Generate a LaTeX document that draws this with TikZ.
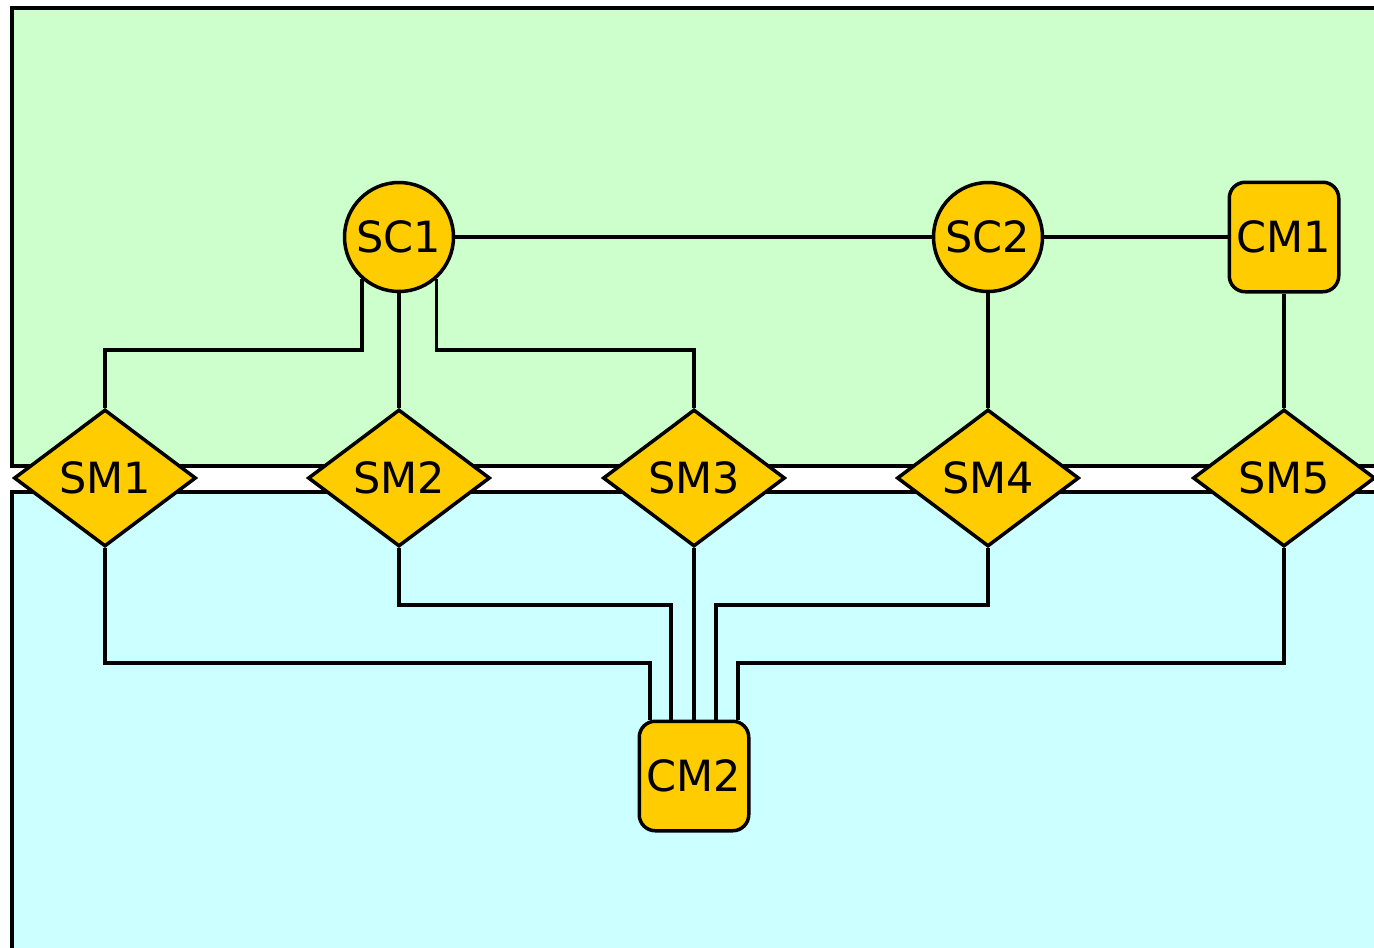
\documentclass[tikz,border=0pt]{standalone}
\usepackage{fontspec}
\setmainfont{DejaVu Sans}
\usetikzlibrary{shapes.geometric}
\definecolor{bggreen}{HTML}{CCFFCC}
\definecolor{bgcyan}{HTML}{CCFFFF}
\definecolor{yel}{HTML}{FFCC00}
\begin{document}
\begin{tikzpicture}[x=1pt,y=-1pt,line width=3.5pt,
  lbl/.style={font=\fontsize{43}{51}\selectfont},
  diamondnode/.style={diamond,draw,fill=yel,lbl,minimum width=182pt,minimum height=137pt,inner sep=0pt},
  circnode/.style={circle,draw,fill=yel,lbl,minimum size=109pt,inner sep=0pt},
  boxnode/.style={rectangle,rounded corners=16pt,draw,fill=yel,lbl,minimum width=109.5pt,minimum height=109.5pt,inner sep=0pt},
  wire/.style={draw=black,line width=3.5pt}]
\useasboundingbox (0,0) rectangle (1374,948);
\clip (0,0) rectangle (1374,948);
% zones
\draw[fill=bggreen] (12,8) rectangle (1420,466);
\draw[fill=bgcyan] (12,492) rectangle (1420,1000);
% bus levels
\coordinate (busU) at (0,350);
\coordinate (busM) at (0,605);
\coordinate (busL) at (0,663);
% nodes
\node[circnode] (SC1) at (399,237) {SC1};
\node[circnode] (SC2) at (988,237) {SC2};
\node[boxnode] (CM1) at (1284,237) {CM1};
\node[diamondnode] (SM1) at (105,478) {SM1};
\node[diamondnode] (SM2) at (399,478) {SM2};
\node[diamondnode] (SM3) at (694,478) {SM3};
\node[diamondnode] (SM4) at (988,478) {SM4};
\node[diamondnode] (SM5) at (1284,478) {SM5};
\node[boxnode] (CM2) at (694,776) {CM2};
% upper connectors
\draw[wire] (SC1) -- (SC2);
\draw[wire] (SC2) -- (CM1);
\draw[wire] (SC1.-131.4) -- (SC1.-131.4 |- busU) -| (SM1.north);
\draw[wire] (SC1.south) -- (SM2.north);
\draw[wire] (SC1.-48.6) -- (SC1.-48.6 |- busU) -| (SM3.north);
\draw[wire] (SC2.south) -- (SM4.north);
\draw[wire] (CM1.south) -- (SM5.north);
% lower connectors
\draw[wire] (SM1.south) -- (SM1.south |- busL) -| ([xshift=-44pt]CM2.north);
\draw[wire] (SM2.south) -- (SM2.south |- busM) -| ([xshift=-23pt]CM2.north);
\draw[wire] (SM3.south) -- (CM2.north);
\draw[wire] (SM4.south) -- (SM4.south |- busM) -| ([xshift=22pt]CM2.north);
\draw[wire] (SM5.south) -- (SM5.south |- busL) -| ([xshift=44pt]CM2.north);
\end{tikzpicture}
\end{document}
